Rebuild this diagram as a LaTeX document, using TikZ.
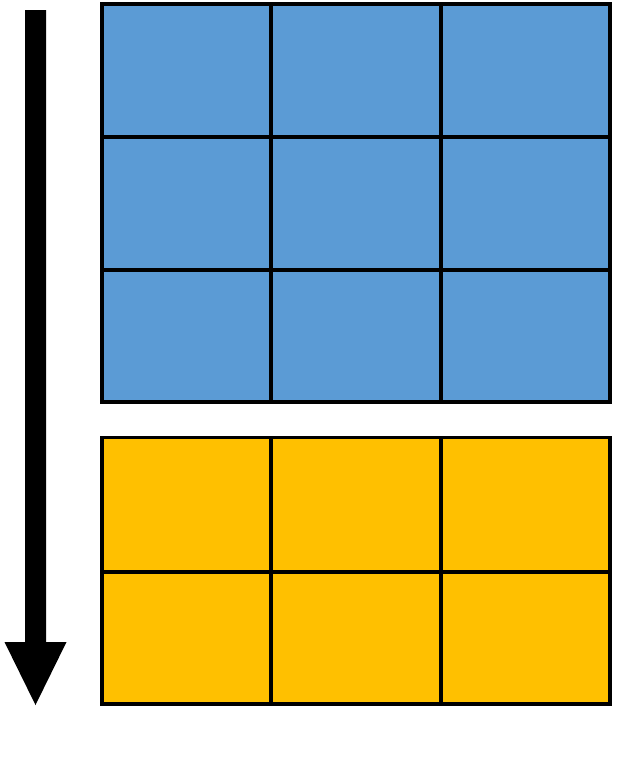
\documentclass[tikz,border=0pt]{standalone}
\definecolor{cellblue}{HTML}{5B9BD5}
\definecolor{cellyellow}{HTML}{FFC000}
\begin{document}
\begin{tikzpicture}[x=1pt,y=-1pt,
  gridline/.style={line width=3.5pt,black},
  arrowfill/.style={fill=black}]
\useasboundingbox (0,0) rectangle (634,769);
% blue block
\fill[cellblue] (102,4) rectangle (610,402);
\draw[gridline] (102,4) rectangle (610,402);
\foreach \x in {271,441} \draw[gridline] (\x,4) -- (\x,402);
\foreach \y in {137,270} \draw[gridline] (102,\y) -- (610,\y);
% yellow block
\fill[cellyellow] (102,437.5) rectangle (610,704);
\draw[gridline] (102,437.5) rectangle (610,704);
\foreach \x in {271,441} \draw[gridline] (\x,437.5) -- (\x,704);
\draw[gridline] (102,572) -- (610,572);
% arrow
\fill[arrowfill] (25,10) -- (46,10) -- (46,642) -- (66.5,642) -- (35.5,705) -- (4.5,642) -- (25,642) -- cycle;
\end{tikzpicture}
\end{document}
